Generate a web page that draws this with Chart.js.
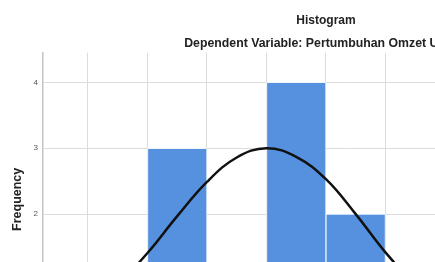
<!DOCTYPE html>
<html>
<head>
<meta charset="utf-8">
<script src="https://cdn.jsdelivr.net/npm/chart.js@4/dist/chart.umd.min.js"></script>
<style>
  html, body { margin: 0; padding: 0; background: #fff; overflow: hidden; }
  #wrap { position: absolute; left: 0; top: 0; }
</style>
</head>
<body>
<div id="wrap"><canvas id="chart" width="652" height="392"></canvas></div>
<script>
// histogram bins (bin centres) and counts
const binCenters = [-2.5, -1.5, -0.5, 0.5, 1.5, 2.5];
const frequencies = [1, 3, 1, 4, 2, 1];

// normal curve
const curveX = [-3, -2.5, -2, -1.5, -1, -0.5, 0, 0.5, 1, 1.5, 2, 2.5, 3];
const curveY = [0.55, 0.93, 1.41, 1.97, 2.49, 2.86, 3.0, 2.87, 2.53, 2.0, 1.42, 0.93, 0.55];

const yTicks = [0, 1, 2, 3, 4];

const font = 'Arial, "Liberation Sans", sans-serif';

const bars = binCenters.map((x, i) => ({ x: x, y: frequencies[i] }));
const curve = curveX.map((x, i) => ({ x: x, y: curveY[i] }));

new Chart(document.getElementById('chart'), {
    type: 'bar',
    data: {
        datasets: [
            {
                type: 'line',
                data: curve,
                borderColor: '#111',
                borderWidth: 2.5,
                pointRadius: 0,
                tension: 0.4,
                fill: false,
                order: 1
            },
            {
                type: 'bar',
                data: bars,
                backgroundColor: '#5591df',
                borderColor: '#eef3fa',
                borderWidth: 1,
                barPercentage: 1,
                categoryPercentage: 1,
                order: 2
            }
        ]
    },
    options: {
        responsive: false,
        animation: false,
        layout: { padding: 0 },
        plugins: {
            legend: { display: false },
            tooltip: { enabled: false },
            title: {
                display: true,
                text: 'Histogram',
                color: '#222',
                font: { family: font, size: 12, weight: 'bold' },
                padding: { top: 13, bottom: 4 }
            },
            subtitle: {
                display: true,
                text: 'Dependent Variable: Pertumbuhan Omzet UMKM',
                color: '#222',
                font: { family: font, size: 12.3, weight: 'bold' },
                padding: { top: 4.5, bottom: 2 }
            }
        },
        scales: {
            x: {
                type: 'linear',
                min: -3.756,
                max: 6.48,
                offset: false,
                grid: { color: '#dcdcdc', lineWidth: 1, offset: false, drawTicks: false },
                border: { display: false },
                ticks: { stepSize: 1, includeBounds: false, color: '#555', font: { family: font, size: 8 }, padding: 5 },
                title: {
                    display: true,
                    text: 'Regression Standardized Residual',
                    color: '#222',
                    font: { family: font, size: 12.5, weight: 'bold' }
                },
                afterFit: (scale) => { scale.height = 46; }
            },
            y: {
                min: 0,
                max: 4.45,
                grid: { color: '#dcdcdc', lineWidth: 1, drawTicks: false },
                border: { color: '#c4c4c4', width: 1.5 },
                afterBuildTicks: (scale) => { scale.ticks = yTicks.map(v => ({ value: v })); },
                ticks: { color: '#555', font: { family: font, size: 8 }, padding: 5 },
                title: {
                    display: true,
                    text: 'Frequency',
                    color: '#222',
                    font: { family: font, size: 12.5, weight: 'bold' },
                    padding: { top: 10.5, bottom: 0 }
                },
                afterFit: (scale) => { scale.width = 43; }
            }
        }
    }
});
</script>
</body>
</html>
